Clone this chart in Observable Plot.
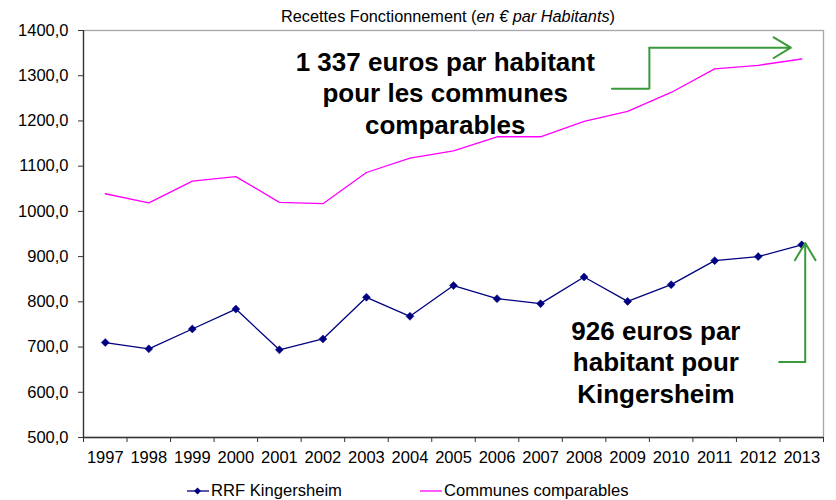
<!DOCTYPE html>
<html>
<head>
<meta charset="utf-8">
<script src="https://cdn.jsdelivr.net/npm/d3@7"></script>
<script src="https://cdn.jsdelivr.net/npm/@observablehq/plot@0.6"></script>
<style>
  body { margin: 0; background: #fff; font-family: "Liberation Sans", Arial, sans-serif; }
  #wrap { position: relative; width: 836px; height: 500px; overflow: hidden; }
  #chart { position: absolute; left: 0; top: 0; }
  .title { position: absolute; left: 0; width: 896px; top: 8px; text-align: center; font-size: 16.3px; line-height: 16px; color: #000; white-space: nowrap; }
  .legend { position: absolute; top: 483px; font-size: 16.6px; line-height: 16px; color: #000; display: flex; align-items: center; white-space: nowrap; }
  .legend svg { display: block; margin-right: 2px; }
</style>
</head>
<body>
<div id="wrap">
  <div id="chart"></div>
  <div class="title">Recettes Fonctionnement (<i>en € par Habitants</i>)</div>
  <div class="legend" style="left:187px;">
    <svg width="22" height="10"><line x1="0" y1="5" x2="22" y2="5" stroke="#000080" stroke-width="1.3"/><path d="M10.5,1.5 L14,5 L10.5,8.5 L7,5 Z" fill="#000080"/></svg>
    <span>RRF Kingersheim</span>
  </div>
  <div class="legend" style="left:420px;">
    <svg width="22" height="10"><line x1="0" y1="5" x2="22" y2="5" stroke="#ff00ff" stroke-width="1.3"/></svg>
    <span>Communes comparables</span>
  </div>
</div>
<script>
// ---- data ----
const years = [1997, 1998, 1999, 2000, 2001, 2002, 2003, 2004, 2005, 2006, 2007, 2008, 2009, 2010, 2011, 2012, 2013];
const kingersheim = [710, 696, 740, 784, 694, 718, 810, 768, 836, 807, 796, 855, 801, 838, 891, 900, 926];
const communes = [1039, 1019, 1067, 1077, 1020, 1017, 1086, 1118, 1134, 1165, 1165, 1199, 1221, 1263, 1315, 1323, 1337];
const yTicks = [500, 600, 700, 800, 900, 1000, 1100, 1200, 1300, 1400];

// annotations (data coordinates)
const noteTopText = "1 337 euros par habitant\npour les communes\ncomparables";
const noteBottomText = "926 euros par\nhabitant pour\nKingersheim";
const noteTopPos = [2004.81, 1361];
const noteBottomPos = [2009.65, 766];
const arrowTopPath = [[2008.64, 1271], [2009.5, 1271], [2009.5, 1362]];
const arrowTopHead = [2009.5, 1362, 2012.75, 1362];
const arrowBottomPath = [[2012.48, 667], [2013.08, 667]];
const arrowBottomHead = [2013.08, 667, 2013.08, 930];

// ---- build ----
const kData = years.map((y, i) => ({year: y, value: kingersheim[i]}));
const cData = years.map((y, i) => ({year: y, value: communes[i]}));
const bandEdges = years.map(y => y - 0.5).concat([years[years.length - 1] + 0.5]);
const xMin = bandEdges[0], xMax = bandEdges[bandEdges.length - 1];
const green = "#3a9a3a";

const chart = Plot.plot({
  width: 836,
  height: 470,
  marginLeft: 83,
  marginRight: 13,
  marginTop: 30,
  marginBottom: 33,
  style: { fontFamily: "'Liberation Sans', Arial, sans-serif", fontSize: "16.5px", color: "#000", background: "transparent" },
  x: { type: "linear", domain: [xMin, xMax], axis: null, label: null },
  y: { type: "linear", domain: [yTicks[0], yTicks[yTicks.length - 1]], axis: null, label: null },
  marks: [
    Plot.frame({ stroke: "#a6a6a6", strokeWidth: 1.3 }),
    Plot.ruleX([xMin], { stroke: "#333", strokeWidth: 1.3 }),
    Plot.ruleY([yTicks[0]], { stroke: "#333", strokeWidth: 1.3 }),
    Plot.axisY({ ticks: yTicks, tickSize: 5, tickPadding: 10, stroke: "#333", fontSize: 16.5,
      tickFormat: d => d.toFixed(1).replace(".", ","), label: null }),
    Plot.axisX({ ticks: bandEdges, tickSize: 5, stroke: "#333", tickFormat: () => "", label: null }),
    Plot.axisX({ ticks: years, tickSize: 0, tickPadding: 14, fontSize: 16.5, tickFormat: d => String(d), label: null }),
    Plot.line(cData, { x: "year", y: "value", stroke: "#ff00ff", strokeWidth: 1.3 }),
    Plot.line(kData, { x: "year", y: "value", stroke: "#000080", strokeWidth: 1.3 }),
    Plot.dot(kData, { x: "year", y: "value", symbol: "diamond2", r: 3.6, fill: "#000080", stroke: "#000080", strokeWidth: 0.5 }),
    Plot.text([noteTopText], { x: noteTopPos[0], y: noteTopPos[1], text: d => d, fontSize: 26, fontWeight: "bold",
      lineAnchor: "top", lineHeight: 1.22, textAnchor: "middle", fill: "#000" }),
    Plot.text([noteBottomText], { x: noteBottomPos[0], y: noteBottomPos[1], text: d => d, fontSize: 26, fontWeight: "bold",
      lineAnchor: "top", lineHeight: 1.22, textAnchor: "middle", fill: "#000" }),
    Plot.line(arrowTopPath, { x: d => d[0], y: d => d[1], stroke: green, strokeWidth: 2, strokeLinejoin: "miter" }),
    Plot.arrow([arrowTopHead], { x1: d => d[0], y1: d => d[1], x2: d => d[2], y2: d => d[3], stroke: green, strokeWidth: 2, headLength: 15, headAngle: 62 }),
    Plot.line(arrowBottomPath, { x: d => d[0], y: d => d[1], stroke: green, strokeWidth: 2 }),
    Plot.arrow([arrowBottomHead], { x1: d => d[0], y1: d => d[1], x2: d => d[2], y2: d => d[3], stroke: green, strokeWidth: 2, headLength: 15, headAngle: 62 })
  ]
});
document.getElementById("chart").appendChild(chart);
</script>
</body>
</html>
